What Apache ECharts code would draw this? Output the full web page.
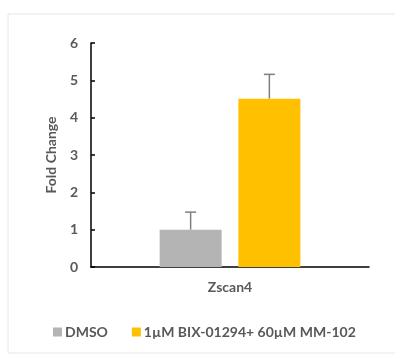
<!DOCTYPE html>
<html><head><meta charset="utf-8">
<script src="https://cdn.jsdelivr.net/npm/echarts@6/dist/echarts.min.js"></script>
<style>html,body{margin:0;padding:0;background:#fff}#c{width:395px;height:356px}</style>
</head><body><div id="c"></div>
<script>
var categories = ['Zscan4'];
var seriesNames = ['DMSO', '1\u00b5M BIX-01294+ 60\u00b5M MM-102'];
var dmsoValues = [1.0];
var bixValues = [4.51];
var dmsoErrorTop = [1.47];
var bixErrorTop = [5.16];
var yTicks = [0, 1, 2, 3, 4, 5, 6];

var colors = ['#b4b4b4', '#ffc000'];
var BAR_W = 0.223, BAR_GAP = 0.27;
var chart = echarts.init(document.getElementById('c'));

function errSeries(idx, tops, vals) {
  return {
    type: 'custom', z: 1, silent: true,
    data: tops.map(function (t, i) { return [i, vals[i], t]; }),
    renderItem: function (params, api) {
      var band = api.size([1, 0])[0];
      var w = band * BAR_W;
      var off = (w + w * BAR_GAP) / 2 * (idx === 0 ? -1 : 1);
      var p0 = api.coord([api.value(0), api.value(1)]);
      var p1 = api.coord([api.value(0), api.value(2)]);
      var x = p0[0] + off;
      var st = { stroke: '#7f7f7f', lineWidth: 1.5 };
      return { type: 'group', children: [
        { type: 'line', shape: { x1: x, y1: p0[1], x2: x, y2: p1[1] }, style: st },
        { type: 'line', shape: { x1: x - 5.5, y1: p1[1], x2: x + 5.5, y2: p1[1] }, style: st }
      ]};
    }
  };
}

var FONT = 'Lato';
chart.setOption({
  animation: false,
  textStyle: { fontFamily: FONT },
  graphic: [{ type: 'rect', shape: { x: 8, y: 14, width: 400, height: 339 }, style: { fill: 'none', stroke: '#e6e6e6', lineWidth: 1 }, silent: true }],
  grid: { left: 91, right: 26, top: 43, bottom: 89 },
  legend: {
    left: 53, top: 325, padding: 0, itemWidth: 9, itemHeight: 9, itemGap: 24,
    icon: 'rect',
    textStyle: { color: '#595959', fontSize: 14, fontWeight: 'bold', fontFamily: FONT, padding: [0, 0, 0, -2] },
    data: seriesNames
  },
  xAxis: {
    type: 'category', data: categories,
    axisLine: { lineStyle: { color: '#000', width: 1.5 } },
    axisTick: { show: false },
    axisLabel: { color: '#595959', fontSize: 14, fontWeight: 'bold', fontFamily: FONT, margin: 13 }
  },
  yAxis: {
    type: 'value', min: yTicks[0], max: yTicks[yTicks.length - 1], interval: 1,
    name: 'Fold Change', nameLocation: 'middle', nameGap: 33,
    nameTextStyle: { color: '#595959', fontSize: 14, fontWeight: 'bold', fontFamily: FONT },
    axisLine: { show: true, lineStyle: { color: '#000', width: 1.5 } },
    axisTick: { show: true, inside: true, length: 4, lineStyle: { color: '#000', width: 1.5 } },
    splitLine: { show: false },
    axisLabel: { color: '#595959', fontSize: 14, fontWeight: 'bold', fontFamily: FONT, margin: 13 }
  },
  series: [
    { name: seriesNames[0], type: 'bar', data: dmsoValues, barWidth: (BAR_W * 100) + '%', barGap: (BAR_GAP * 100) + '%', itemStyle: { color: colors[0] }, z: 2 },
    { name: seriesNames[1], type: 'bar', data: bixValues, barWidth: (BAR_W * 100) + '%', itemStyle: { color: colors[1] }, z: 2 },
    errSeries(0, dmsoErrorTop, dmsoValues),
    errSeries(1, bixErrorTop, bixValues)
  ]
});
</script></body></html>
